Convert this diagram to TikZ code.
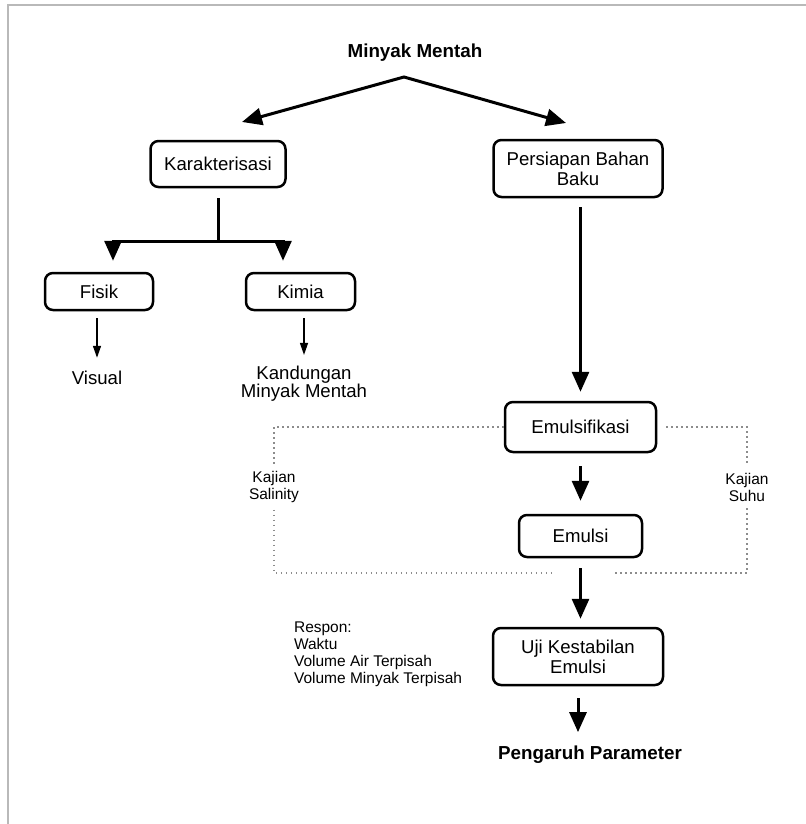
\documentclass[tikz,border=0pt]{standalone}
\usepackage{fontspec}
\setmainfont{Liberation Sans}
\usetikzlibrary{arrows.meta,positioning}

\begin{document}
\begin{tikzpicture}[x=0.5pt,y=-0.5pt,on grid,
        >={Triangle[length=10pt,width=8.5pt]},
        kotak/.style={draw,line width=1.25pt,rounded corners=4pt,align=center,inner sep=0pt,font=\fontsize{9.3}{10}\selectfont},
        teks/.style={align=center,inner sep=2pt,font=\fontsize{9.3}{9}\selectfont},
        kecil/.style={align=center,font=\fontsize{7.75}{8.5}\selectfont},
        judul/.style={font=\fontsize{9.4}{10}\selectfont\bfseries},
        garis/.style={line width=1.5pt},
        tebal/.style={->,line width=1.5pt},
        tipis/.style={-{Triangle[length=6pt,width=4pt]},line width=0.7pt},
        titik/.style={gray!90,line width=0.8pt,dash pattern=on 0.8pt off 1.7pt}]
        \useasboundingbox (0,0) rectangle (806,824);
        \draw[gray!55,line width=0.6pt] (8,824) -- (8,5) -- (806,5);

        \node[judul] (minyak) at (415,53) {Minyak Mentah};
        \coordinate[below=12pt of minyak,xshift=-5.5pt] (puncak);
        \coordinate[below left=22.5pt and 81pt of puncak] (ujungL);
        \coordinate[below right=23pt and 81pt of puncak] (ujungR);

        \node[kotak,minimum width=67.5pt,minimum height=23pt] (karak) [below left=55.5pt and 98.5pt of minyak] {Karakterisasi};
        \node[kotak,minimum width=84.5pt,minimum height=28.5pt] (persiapan) [below right=57.75pt and 81.5pt of minyak] {Persiapan Bahan\\Baku};
        \coordinate[below=38.5pt of karak] (cabang);
        \node[kotak,minimum width=54pt,minimum height=18.5pt] (fisik) [below left=63.75pt and 59.5pt of karak] {Fisik};
        \node[kotak,minimum width=54.5pt,minimum height=18.5pt] (kimia) [below right=63.75pt and 41.25pt of karak] {Kimia};
        \node[teks] (visual) [below=43.25pt of fisik,xshift=-1pt] {Visual};
        \node[teks] (kandungan) [below=46.25pt of kimia,xshift=1.75pt] {Kandungan\\Minyak Mentah};

        \node[kotak,minimum width=75.5pt,minimum height=25pt] (emulsifikasi) [below=129.25pt of persiapan,xshift=1.25pt] {Emulsifikasi};
        \node[kotak,minimum width=61.5pt,minimum height=21pt] (emulsi) [below=54.5pt of emulsifikasi] {Emulsi};
        \node[kotak,minimum width=85pt,minimum height=28.5pt] (uji) [below=60.25pt of emulsi,xshift=-1.25pt] {Uji Kestabilan\\Emulsi};
        \node[judul] (pengaruh) [below=49.25pt of uji,xshift=6pt] {Pengaruh Parameter};
        \node[kecil,align=left] (respon) [left=145.5pt of uji,anchor=west,yshift=1.25pt] {Respon:\\Waktu\\Volume Air Terpisah\\Volume Minyak Terpisah};

        \node[kecil] (k_salinity) [below left=30pt and 153.25pt of emulsifikasi] {Kajian\\Salinity};
        \node[kecil] (k_suhu) [below right=30pt and 83.25pt of emulsifikasi] {Kajian\\Suhu};
        \coordinate[below left=18.5pt and 14.25pt of emulsi] (celahL);
        \coordinate[below right=18.5pt and 15.75pt of emulsi] (celahR);

        \draw[tebal,<->] (ujungL) -- (puncak) -- (ujungR);
        \draw[garis,shorten <=5pt] (karak) -- (cabang);
        \draw[tebal,shorten >=5.5pt] (cabang) -| ([xshift=7pt]fisik.north);
        \draw[tebal,shorten >=5.5pt] (cabang) -| ([xshift=-8.75pt]kimia.north);
        \draw[tipis,shorten <=3.5pt,shorten >=4.5pt] (visual |- fisik.south) -- (visual);
        \draw[tipis,shorten <=3.5pt,shorten >=3.5pt] (kandungan |- kimia.south) -- (kandungan);

        \draw[tebal,shorten <=4.5pt,shorten >=4.5pt] (emulsifikasi |- persiapan.south) -- (emulsifikasi);
        \draw[tebal,shorten <=6.5pt,shorten >=6.5pt] (emulsifikasi) -- (emulsi);
        \draw[tebal,shorten <=5pt,shorten >=4pt] (emulsi) -- (emulsi |- uji.north);
        \draw[tebal,shorten <=6pt,shorten >=3.5pt] (uji) -- (uji |- pengaruh.north);

        \draw[titik] (emulsifikasi.west) -| (k_salinity.north);
        \draw[titik] (k_salinity.south) |- (celahL);
        \draw[titik] ([xshift=4.5pt]emulsifikasi.east) -| (k_suhu.north);
        \draw[titik] (k_suhu.south) |- (celahR);
\end{tikzpicture}
\end{document}
